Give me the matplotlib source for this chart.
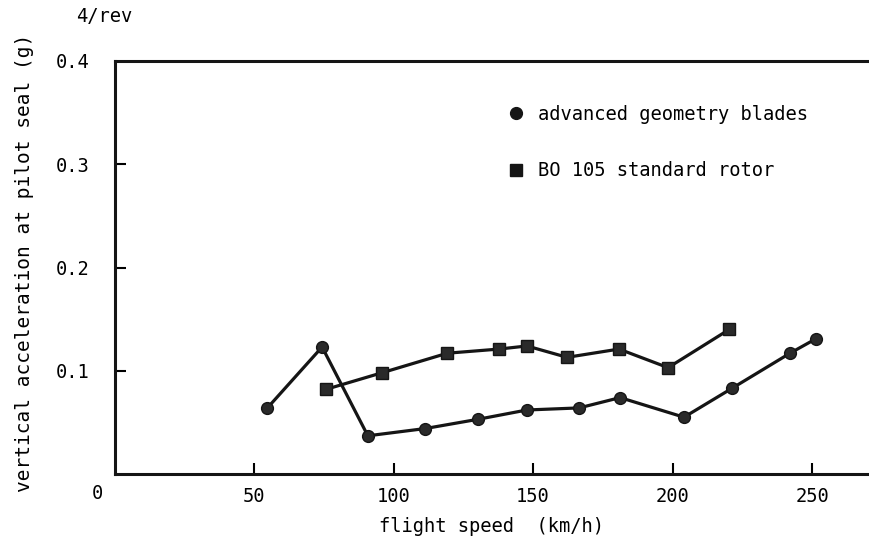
import matplotlib
matplotlib.use("Agg")
import matplotlib.pyplot as plt
from matplotlib.lines import Line2D

plt.rcParams['font.family'] = ['DejaVu Sans Mono', 'DejaVu Sans']

# Data
adv_speed = [54.8, 74.4, 90.8, 111.3, 130.3, 147.8, 166.5, 181.2, 204.1, 221.3, 242.1, 251.4]
adv_accel = [0.064, 0.123, 0.037, 0.044, 0.053, 0.062, 0.064, 0.074, 0.055, 0.083, 0.117, 0.131]

std_speed = [75.8, 95.8, 119.3, 137.8, 147.8, 162.2, 180.8, 198.4, 220.3]
std_accel = [0.082, 0.098, 0.117, 0.121, 0.124, 0.113, 0.121, 0.103, 0.140]

x_ticks = [50, 100, 150, 200, 250]
x_tick_labels = ['50', '100', '150', '200', '250']
y_ticks = [0.1, 0.2, 0.3, 0.4]
y_tick_labels = ['0.1', '0.2', '0.3', '0.4']

label_adv = 'advanced geometry blades'
label_std = 'BO 105 standard rotor'

W, H = 869, 542
fig = plt.figure(figsize=(W / 100, H / 100), dpi=100)
ax = fig.add_axes([114.5 / W, (H - 474) / H, (W - 114.5) / W, (474 - 61) / H])

fs = 13.5
col = '#151515'

ax.plot(adv_speed, adv_accel, '-o', color=col, lw=2.3, ms=8.5,
        markeredgecolor=col, markerfacecolor='#2a2a2a')
ax.plot(std_speed, std_accel, '-s', color=col, lw=2.3, ms=8.5,
        markeredgecolor=col, markerfacecolor='#2a2a2a')

ax.set_xlim(0, 270.4)
ax.set_ylim(0, 0.4)

ax.set_xticks(x_ticks)
ax.set_xticklabels(x_tick_labels, fontsize=fs)
ax.set_yticks(y_ticks)
ax.set_yticklabels(y_tick_labels, fontsize=fs)
ax.tick_params(axis='x', direction='in', length=8, width=1.5, pad=9)
ax.tick_params(axis='y', direction='in', length=8, width=1.5, pad=18)
ax.yaxis.get_major_ticks()[-1].tick1line.set_visible(False)

for s in ['left', 'bottom', 'top']:
    ax.spines[s].set_linewidth(2.2)
    ax.spines[s].set_color(col)
ax.spines['right'].set_visible(False)

ax.text(-6.3, -0.019, '0', fontsize=fs, ha='center', va='center', clip_on=False)

ax.set_xlabel('flight speed  (km/h)', fontsize=fs, labelpad=8)
fig.text(25 / W, 1 - 263 / H, 'vertical acceleration at pilot seal (g)',
         rotation=90, fontsize=14, ha='center', va='center')
fig.text(76 / W, 1 - 17 / H, '4/rev', fontsize=fs, ha='left', va='center')

handles = [Line2D([], [], marker='o', ls='none', color=col, ms=8.5),
           Line2D([], [], marker='s', ls='none', color=col, ms=8.5)]
leg = ax.legend(handles, [label_adv, label_std], loc='upper left',
                bbox_to_anchor=((520 - 114.5 - 10) / (W - 114.5), 1 - (119 - 61 - 14) / (474 - 61)),
                frameon=False, fontsize=fs, handlelength=0.6, handletextpad=0.92,
                labelspacing=2.0, borderpad=0, borderaxespad=0)

fig.savefig('out.png', dpi=100)
